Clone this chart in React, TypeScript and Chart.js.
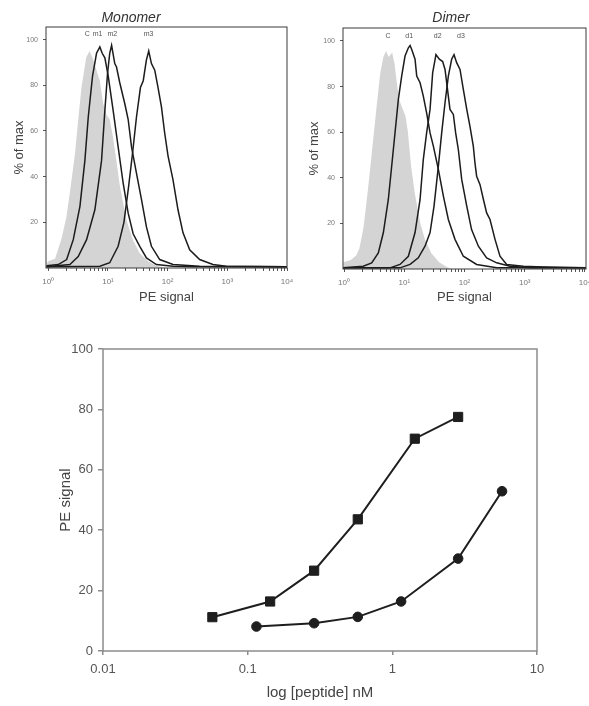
import React, { useEffect, useRef } from "react";
import { Chart, registerables } from "chart.js";

Chart.register(...registerables);

const FONT = '"Liberation Sans", Arial, Helvetica, sans-serif';

// ---------- histogram axes ----------
const HIST_Y_TICKS = [20, 40, 60, 80, 100];
const HIST_X_MAJOR = [1, 10, 100, 1000, 10000];
const HIST_X_LABELS = ["10⁰", "10¹", "10²", "10³", "10⁴"];
const HIST_X_MINOR_STEPS = [2, 3, 4, 5, 6, 7, 8, 9];

// ---------- Monomer histogram ----------
const MONO_C_X = [0.93, 1.0, 1.3, 1.67, 2.0, 2.3, 2.8, 3.2, 3.6, 4.3, 4.9, 5.5, 6.0, 7.3, 8.3, 9.5, 10.7, 12.0, 13.0, 15.8, 20.4, 26.4, 34, 47, 65, 95];
const MONO_C_Y = [2, 3, 4, 13, 22, 33, 50, 66, 79, 92, 95, 92, 89, 82, 72, 67, 65, 58, 52, 36, 21, 12, 6.5, 3, 1, 0];

const MONO_M1_X = [0.93, 1.47, 2.03, 2.62, 3.39, 4.1, 4.67, 5.51, 6.43, 7.31, 8.0, 8.87, 10.1, 12.2, 14.8, 18.0, 21.8, 26.4, 34.1, 44.1, 64.8, 123, 265, 10000];
const MONO_M1_Y = [1, 1.5, 3.7, 12.4, 27, 47, 66, 84, 94, 96.8, 94, 92, 84, 69, 53, 37, 24, 15, 9.5, 4.4, 1.5, 0.8, 0.6, 0.5];

const MONO_M2_X = [0.93, 2.3, 3.17, 4.38, 6.03, 7.8, 8.87, 9.82, 10.7, 11.5, 13.0, 13.9, 15.8, 19.1, 21.8, 24.8, 30.0, 36.4, 44.1, 53.5, 73.7, 123, 344, 10000];
const MONO_M2_Y = [0.6, 1.5, 5, 12.4, 25.5, 47, 69, 85, 94, 97.5, 89.5, 88, 81, 72, 65, 53, 41.5, 30, 18, 9.5, 3.7, 1.5, 0.8, 0.5];

const MONO_M3_X = [0.93, 7.31, 10.7, 14.8, 18.5, 22, 26, 30, 35, 39, 44, 48.2, 53.5, 60.8, 69.0, 78.6, 89.3, 101.6, 123, 149, 181, 234, 344, 574, 960, 10000];
const MONO_M3_Y = [0.5, 0.8, 2.3, 9.5, 20, 35, 51, 66, 79, 82, 91, 95, 89.5, 86.6, 79, 70.6, 59, 49, 38.6, 25.5, 15.4, 8, 3.7, 1.5, 0.8, 0.5];

const MONO_LABELS = ["C", "m1", "m2", "m3"];
const MONO_LABEL_X = [4.5, 6.7, 11.8, 48];

// ---------- Dimer histogram ----------
const DIM_C_X = [0.97, 1.3, 1.6, 1.8, 2.1, 2.5, 3.0, 3.5, 4.0, 4.5, 5.0, 5.5, 6.3, 6.9, 7.5, 8.3, 9.5, 10.5, 11.5, 13.0, 15.0, 18.5, 22, 28, 38, 50, 60];
const DIM_C_Y = [3, 4, 6, 9, 18, 35, 55, 72, 86, 93, 95.6, 93, 95, 90, 82, 74, 70, 67, 60, 45, 33, 20, 13, 7, 3, 1, 0];

const DIM_D1_X = [0.97, 2.09, 2.88, 3.71, 4.5, 5.44, 6.59, 7.98, 9.06, 10.3, 11.7, 12.5, 13.3, 15.1, 16.1, 18.3, 20.7, 23.5, 26.8, 30.4, 36.8, 44.6, 53.9, 69.5, 95.6, 159, 342, 10400];
const DIM_D1_Y = [0.5, 1.2, 2.7, 7, 16, 30.5, 52.4, 74.4, 84.6, 93.4, 97, 98, 96.3, 92, 84.6, 81.7, 75.8, 68.5, 59.7, 53.9, 43.7, 32, 21.7, 13, 5.6, 2, 0.5, 0.5];

const DIM_D2_X = [0.97, 5.8, 8.5, 11.7, 15.1, 18.3, 20.7, 23.5, 26.8, 29.6, 33.6, 38.2, 43.4, 47.5, 53.9, 57.4, 65.3, 71.3, 79.0, 89.8, 109, 131, 170, 233, 342, 569, 1222, 10400];
const DIM_D2_Y = [0.5, 0.5, 2, 5.6, 16, 30.5, 48, 59.7, 70, 86, 94, 92, 91, 87.5, 75.8, 70, 67.8, 59.7, 52.4, 39.3, 27.6, 17.3, 10, 4.9, 2.7, 1.2, 0.5, 0.5];

const DIM_D3_X = [0.97, 8.5, 12.5, 17.1, 22.1, 26.8, 31.2, 36.8, 41.8, 47.5, 53.9, 61.2, 67.0, 74.1, 84.2, 95.6, 109, 123, 140, 149, 159, 181, 206, 233, 265, 321, 388, 501, 947, 1578, 10400];
const DIM_D3_Y = [0.5, 0.5, 2, 4.9, 10, 16, 27.6, 45, 59.7, 72.9, 84.6, 92, 94, 90.5, 87.5, 78.8, 70, 62.7, 53.9, 46.6, 40.7, 37, 30.5, 24.6, 21.7, 13, 5.6, 2, 1.2, 1, 0.5];

const DIM_LABELS = ["C", "d1", "d2", "d3"];
const DIM_LABEL_X = [5.4, 12.1, 35.9, 87.5];

// ---------- dose-response ----------
const CONC_SQUARE = [0.057, 0.143, 0.288, 0.577, 1.43, 2.85];
const PE_SQUARE = [11.2, 16.4, 26.6, 43.6, 70.3, 77.5];
const CONC_CIRCLE = [0.115, 0.288, 0.577, 1.15, 2.85, 5.73];
const PE_CIRCLE = [8.1, 9.2, 11.3, 16.4, 30.6, 52.9];
const DOSE_X_TICKS = [0.01, 0.1, 1, 10];
const DOSE_X_LABELS = ["0.01", "0.1", "1", "10"];
const DOSE_Y_TICKS = [0, 20, 40, 60, 80, 100];

const toPts = (xs: number[], ys: number[]) => xs.map((x, i) => ({ x, y: ys[i] }));

const framePlugin = (color: string, width: number) => ({
  id: "frame",
  afterDatasetsDraw(chart: any) {
    const { ctx, chartArea: a } = chart;
    ctx.save();
    ctx.strokeStyle = color;
    ctx.lineWidth = width;
    ctx.strokeRect(a.left, a.top, a.right - a.left, a.bottom - a.top);
    ctx.restore();
  },
});

const histTextPlugin = (title: string, titleX: number, labels: string[], labelXs: number[], labelY: number) => ({
  id: "histText",
  afterDraw(chart: any) {
    const { ctx } = chart;
    const xs = chart.scales.x;
    const ys = chart.scales.y;
    ctx.save();
    ctx.textAlign = "center";
    ctx.textBaseline = "middle";
    ctx.fillStyle = "#333";
    ctx.font = `italic 14px ${FONT}`;
    ctx.fillText(title, titleX, 18);
    ctx.fillStyle = "#555";
    ctx.font = `7px ${FONT}`;
    labels.forEach((l, i) => ctx.fillText(l, xs.getPixelForValue(labelXs[i]), ys.getPixelForValue(labelY)));
    ctx.restore();
  },
});

function makeHistogram(canvas: HTMLCanvasElement, cfg: any) {
  const xTicks: number[] = [];
  HIST_X_MAJOR.forEach((d, i) => {
    xTicks.push(d);
    if (i < HIST_X_MAJOR.length - 1) HIST_X_MINOR_STEPS.forEach((m) => xTicks.push(m * d));
  });
  const datasets: any[] = [
    {
      data: toPts(cfg.fillX, cfg.fillY),
      fill: "origin",
      backgroundColor: "#d4d4d4",
      borderWidth: 0,
      pointRadius: 0,
      order: 1,
    },
    ...cfg.lines.map(([xs, ys]: number[][]) => ({
      data: toPts(xs, ys),
      fill: false,
      borderColor: "#1c1c1c",
      borderWidth: 1.5,
      pointRadius: 0,
      order: 0,
    })),
  ];
  return new Chart(canvas, {
    type: "line",
    data: { datasets },
    options: {
      responsive: false,
      animation: false,
      devicePixelRatio: 1,
      layout: { padding: { top: cfg.padTop, right: cfg.padRight, left: 0, bottom: 0 } },
      plugins: { legend: { display: false }, tooltip: { enabled: false } },
      scales: {
        x: {
          type: "logarithmic",
          min: cfg.xMin,
          max: cfg.xMax,
          border: { display: false },
          grid: { drawOnChartArea: false, drawTicks: true, tickLength: 3, color: "#555" },
          ticks: {
            autoSkip: false,
            maxRotation: 0,
            padding: 6,
            color: "#777",
            font: { family: FONT, size: 8 },
            callback: (v: any) => {
              const i = HIST_X_MAJOR.indexOf(Number(v));
              return i >= 0 ? HIST_X_LABELS[i] : "";
            },
          },
          afterBuildTicks: (s: any) => {
            s.ticks = xTicks.map((v) => ({ value: v, major: HIST_X_MAJOR.includes(v) }));
          },
          afterFit: (s: any) => {
            s.height = cfg.xAxisHeight;
            s.paddingLeft = 0;
            s.paddingRight = 0;
          },
          title: {
            display: true,
            text: "PE signal",
            color: "#444",
            font: { family: FONT, size: 13 },
            padding: { top: 0, bottom: 5 },
          },
        },
        y: {
          type: "linear",
          min: 0,
          max: cfg.yMax,
          border: { display: false },
          grid: { drawOnChartArea: false, drawTicks: true, tickLength: 3, color: "#555" },
          ticks: { padding: 5, color: "#777", font: { family: FONT, size: 7 } },
          afterBuildTicks: (s: any) => {
            s.ticks = HIST_Y_TICKS.map((v) => ({ value: v }));
          },
          afterFit: (s: any) => {
            s.width = cfg.yAxisWidth;
            s.paddingTop = 0;
            s.paddingBottom = 0;
          },
          title: {
            display: true,
            text: "% of max",
            color: "#444",
            font: { family: FONT, size: 13 },
            padding: { top: 12, bottom: 0 },
          },
        },
      },
    },
    plugins: [framePlugin("#3a3a3a", 1), histTextPlugin(cfg.title, cfg.titleX, cfg.labels, cfg.labelX, cfg.labelY)],
  } as any);
}

function makeDose(canvas: HTMLCanvasElement) {
  const common = { borderColor: "#1e1e1e", backgroundColor: "#1e1e1e", borderWidth: 2, pointBorderWidth: 1, fill: false };
  return new Chart(canvas, {
    type: "line",
    data: {
      datasets: [
        { ...common, data: toPts(CONC_SQUARE, PE_SQUARE), pointStyle: "rect", pointRadius: 6.5 },
        { ...common, data: toPts(CONC_CIRCLE, PE_CIRCLE), pointStyle: "circle", pointRadius: 4.8 },
      ],
    },
    options: {
      responsive: false,
      animation: false,
      devicePixelRatio: 1,
      layout: { padding: { top: 19, right: 52, left: 0, bottom: 0 } },
      plugins: { legend: { display: false }, tooltip: { enabled: false } },
      scales: {
        x: {
          type: "logarithmic",
          min: 0.01,
          max: 10,
          border: { display: false },
          grid: { drawOnChartArea: false, drawTicks: true, tickLength: 4, color: "#8c8c8c", lineWidth: 1.5 },
          ticks: {
            autoSkip: false,
            maxRotation: 0,
            padding: 7,
            color: "#555",
            font: { family: FONT, size: 13 },
            callback: (v: any) => {
              const i = DOSE_X_TICKS.indexOf(Number(v));
              return i >= 0 ? DOSE_X_LABELS[i] : "";
            },
          },
          afterBuildTicks: (s: any) => {
            s.ticks = DOSE_X_TICKS.map((v) => ({ value: v, major: true }));
          },
          afterFit: (s: any) => {
            s.height = 55;
            s.paddingLeft = 0;
            s.paddingRight = 0;
          },
          title: {
            display: true,
            text: "log [peptide] nM",
            color: "#444",
            font: { family: FONT, size: 15 },
            padding: { top: 0, bottom: 4 },
          },
        },
        y: {
          type: "linear",
          min: 0,
          max: 100,
          border: { display: false },
          grid: { drawOnChartArea: false, drawTicks: true, tickLength: 5, color: "#8c8c8c", lineWidth: 1.5 },
          ticks: { padding: 5, color: "#555", font: { family: FONT, size: 13 } },
          afterBuildTicks: (s: any) => {
            s.ticks = DOSE_Y_TICKS.map((v) => ({ value: v }));
          },
          afterFit: (s: any) => {
            s.width = 103;
            s.paddingTop = 0;
            s.paddingBottom = 0;
          },
          title: {
            display: true,
            text: "PE signal",
            color: "#444",
            font: { family: FONT, size: 15 },
            padding: { top: 57, bottom: 0 },
          },
        },
      },
    },
    plugins: [framePlugin("#8c8c8c", 1.5)],
  } as any);
}

export default function App() {
  const monoRef = useRef<HTMLCanvasElement>(null);
  const dimRef = useRef<HTMLCanvasElement>(null);
  const doseRef = useRef<HTMLCanvasElement>(null);

  useEffect(() => {
    const charts = [
      makeHistogram(monoRef.current!, {
        fillX: MONO_C_X,
        fillY: MONO_C_Y,
        lines: [
          [MONO_M1_X, MONO_M1_Y],
          [MONO_M2_X, MONO_M2_Y],
          [MONO_M3_X, MONO_M3_Y],
        ],
        xMin: 0.915,
        xMax: 10000,
        yMax: 105.5,
        padTop: 27,
        padRight: 8,
        yAxisWidth: 46,
        xAxisHeight: 42,
        title: "Monomer",
        titleX: 131,
        labels: MONO_LABELS,
        labelX: MONO_LABEL_X,
        labelY: 102.6,
      }),
      makeHistogram(dimRef.current!, {
        fillX: DIM_C_X,
        fillY: DIM_C_Y,
        lines: [
          [DIM_D1_X, DIM_D1_Y],
          [DIM_D2_X, DIM_D2_Y],
          [DIM_D3_X, DIM_D3_Y],
        ],
        xMin: 0.962,
        xMax: 10390,
        yMax: 105.7,
        padTop: 28,
        padRight: 3,
        yAxisWidth: 48,
        xAxisHeight: 41,
        title: "Dimer",
        titleX: 156,
        labels: DIM_LABELS,
        labelX: DIM_LABEL_X,
        labelY: 102,
      }),
      makeDose(doseRef.current!),
    ];
    return () => charts.forEach((c) => c.destroy());
  }, []);

  return (
    <div style={{ position: "absolute", left: 0, top: 0, width: 589, height: 706, background: "#fff" }}>
      <canvas ref={monoRef} width={295} height={310} style={{ position: "absolute", left: 0, top: 0, width: 295, height: 310 }} />
      <canvas ref={dimRef} width={294} height={310} style={{ position: "absolute", left: 295, top: 0, width: 294, height: 310 }} />
      <canvas ref={doseRef} width={589} height={376} style={{ position: "absolute", left: 0, top: 330, width: 589, height: 376 }} />
    </div>
  );
}
